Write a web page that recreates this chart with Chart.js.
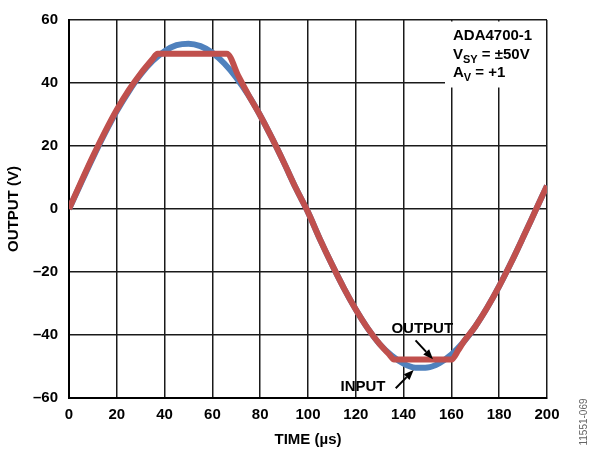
<!DOCTYPE html>
<html lang="en">
<head>
<meta charset="UTF-8">
<title>ADA4700-1 clipping</title>
<script src="https://cdn.jsdelivr.net/npm/chart.js@4.4.0/dist/chart.umd.min.js"></script>
<style>
    body { margin: 0; background: #ffffff; }
    #wrap { width: 590px; height: 453px; }
</style>
</head>
<body>
<div id="wrap"><canvas id="myChart" width="590" height="453"></canvas></div>

<script type="text/javascript">
// input sine (blue), every 5 us
var inTime = [0, 5, 10, 15, 20, 25, 30, 35, 40, 45, 50, 55, 60, 65, 70, 75, 80, 85, 90, 95,
              100, 105, 110, 115, 120, 125, 130, 135, 140, 145, 150, 155, 160, 165, 170, 175, 180, 185, 190, 195, 200];
var inVolts = [0, 8.2, 16.3, 24.0, 31.1, 37.3, 42.7, 47.0, 50.1, 52.0, 52.5, 51.7, 49.6, 46.2, 41.7, 36.2, 29.7, 22.4, 14.6, 6.5,
               -1.0, -9.6, -17.6, -25.1, -31.9, -37.9, -42.9, -46.5, -49.1, -50.4, -50.3, -48.9, -46.2, -42.3, -37.3, -31.3, -24.5, -17.0, -9.0, -0.8, 7.4];

// output (red), clipped near the rails
var outTime = [0, 5, 10, 15, 20, 25, 30, 35, 37, 45, 55, 66, 71, 75, 80, 85, 90, 95,
               100, 105, 110, 115, 120, 125, 130, 134, 136, 145, 155, 160, 163, 165, 170, 175, 180, 185, 190, 195, 200];
var outVolts = [0, 8.5, 16.7, 24.4, 31.5, 37.7, 43.0, 47.6, 49.3, 49.3, 49.3, 49.3, 42.0, 36.3, 29.7, 22.4, 14.6, 6.5,
                -1.0, -9.6, -17.6, -25.1, -31.9, -37.9, -42.9, -46.2, -47.8, -47.8, -47.8, -47.8, -44.7, -42.3, -37.3, -31.3, -24.5, -17.0, -9.0, -0.8, 7.4];

// axis ticks
var xTicks = [0, 20, 40, 60, 80, 100, 120, 140, 160, 180, 200];
var yTicks = [-60, -40, -20, 0, 20, 40, 60];

// labels on the plot: [text, x, y] in data units, arrows [x0, y0, x1, y1]
var noteText = [["OUTPUT", 134.9, -39.3], ["INPUT", 113.6, -57.8]];
var noteArrows = [[145.0, -41.7, 152.3, -47.7], [136.7, -56.9, 144.2, -51.1]];

var FONT = "'Liberation Sans', Arial, sans-serif";
Chart.defaults.font.family = FONT;
Chart.defaults.color = "#000000";

function toPoints(xs, ys) {
    var pts = [];
    for (var i = 0; i < xs.length; i++) {
        pts.push({x: xs[i], y: ys[i]});
    }
    return pts;
}

// white box with the part number / conditions, drawn over the grid
const boxPlugin = {
    id: 'boxPlugin',
    beforeDatasetsDraw(chart) {
        const ctx = chart.ctx;
        const a = chart.chartArea;
        ctx.save();
        ctx.fillStyle = "#ffffff";
        ctx.fillRect(a.right - 102, a.top + 1.5, 101, 66);
        ctx.restore();
    },
    afterDraw(chart) {
        const ctx = chart.ctx;
        const a = chart.chartArea;
        const xs = chart.scales.x, ys = chart.scales.y;
        ctx.save();
        ctx.fillStyle = "#000000";
        ctx.textAlign = "left";
        ctx.textBaseline = "alphabetic";

        var left = a.right - 94;
        ctx.font = "bold 15px " + FONT;
        ctx.fillText("ADA4700-1", left, a.top + 20);

        // V_SY line
        var x = left;
        ctx.fillText("V", x, a.top + 38.5);
        x += ctx.measureText("V").width;
        ctx.font = "bold 11px " + FONT;
        ctx.fillText("SY", x, a.top + 42.5);
        x += ctx.measureText("SY").width;
        ctx.font = "bold 15px " + FONT;
        ctx.fillText(" = \u00B150V", x, a.top + 38.5);

        // A_V line
        x = left;
        ctx.fillText("A", x, a.top + 56.5);
        x += ctx.measureText("A").width;
        ctx.font = "bold 11px " + FONT;
        ctx.fillText("V", x, a.top + 61);
        x += ctx.measureText("V").width;
        ctx.font = "bold 15px " + FONT;
        ctx.fillText(" = +1", x, a.top + 56.5);

        // OUTPUT / INPUT labels and arrows
        for (var i = 0; i < noteText.length; i++) {
            ctx.fillText(noteText[i][0], xs.getPixelForValue(noteText[i][1]), ys.getPixelForValue(noteText[i][2]));
        }
        ctx.strokeStyle = "#000000";
        ctx.lineWidth = 2;
        for (var j = 0; j < noteArrows.length; j++) {
            var x0 = xs.getPixelForValue(noteArrows[j][0]), y0 = ys.getPixelForValue(noteArrows[j][1]);
            var x1 = xs.getPixelForValue(noteArrows[j][2]), y1 = ys.getPixelForValue(noteArrows[j][3]);
            var ang = Math.atan2(y1 - y0, x1 - x0);
            var hx = x1 - 10 * Math.cos(ang), hy = y1 - 10 * Math.sin(ang);
            ctx.beginPath();
            ctx.moveTo(x0, y0);
            ctx.lineTo(hx, hy);
            ctx.stroke();
            ctx.beginPath();
            ctx.moveTo(x1, y1);
            ctx.lineTo(hx + 4 * Math.sin(ang), hy - 4 * Math.cos(ang));
            ctx.lineTo(hx - 4 * Math.sin(ang), hy + 4 * Math.cos(ang));
            ctx.closePath();
            ctx.fill();
        }

        // figure number on the right edge
        ctx.translate(584, 422);
        ctx.rotate(-Math.PI / 2);
        ctx.font = "10px " + FONT;
        ctx.fillStyle = "#666666";
        ctx.textAlign = "center";
        ctx.textBaseline = "middle";
        ctx.fillText("11551-069", 0, 0);
        ctx.restore();
    }
};

const config = {
    type: 'line',
    data: {
        datasets: [{
            label: 'INPUT',
            data: toPoints(inTime, inVolts),
            borderColor: '#4F81BD',
            borderWidth: 6,
            pointRadius: 0,
            cubicInterpolationMode: 'monotone',
            fill: false,
            order: 1
        }, {
            label: 'OUTPUT',
            data: toPoints(outTime, outVolts),
            borderColor: '#C0504D',
            borderWidth: 6,
            pointRadius: 0,
            cubicInterpolationMode: 'monotone',
            fill: false,
            order: 0
        }]
    },
    options: {
        responsive: false,
        animation: false,
        events: [],
        layout: { padding: { left: 0, right: 43, top: 15, bottom: 0 } },
        plugins: { legend: { display: false }, tooltip: { enabled: false } },
        scales: {
            x: {
                type: 'linear',
                min: 0, max: 200,
                afterFit: function (s) { s.height = 55; },
                afterBuildTicks: function (s) { s.ticks = xTicks.map(function (v) { return {value: v}; }); },
                grid: { color: '#1a1a1a', lineWidth: 1.5, drawTicks: false },
                border: { color: '#000000', width: 2 },
                ticks: { padding: 8, font: { size: 15, weight: 'bold' }, color: '#000000', maxRotation: 0 },
                title: { display: true, text: 'TIME (\u00B5s)', font: { size: 15, weight: 'bold' }, color: '#000000', padding: { top: 0, bottom: 4 } }
            },
            y: {
                min: -60, max: 60,
                afterFit: function (s) { s.width = 69; },
                afterBuildTicks: function (s) { s.ticks = yTicks.map(function (v) { return {value: v}; }); },
                grid: { color: '#1a1a1a', lineWidth: 1.5, drawTicks: false },
                border: { color: '#000000', width: 2 },
                ticks: {
                    padding: 11,
                    font: { size: 15, weight: 'bold' },
                    color: '#000000',
                    callback: function (v) { return String(v).replace('-', '\u2013'); }
                },
                title: { display: true, text: 'OUTPUT (V)', font: { size: 15, weight: 'bold' }, color: '#000000', padding: { top: 5, bottom: 0 } }
            }
        }
    },
    plugins: [boxPlugin]
};

var myChart = new Chart(document.getElementById('myChart'), config);
</script>
</body>
</html>
